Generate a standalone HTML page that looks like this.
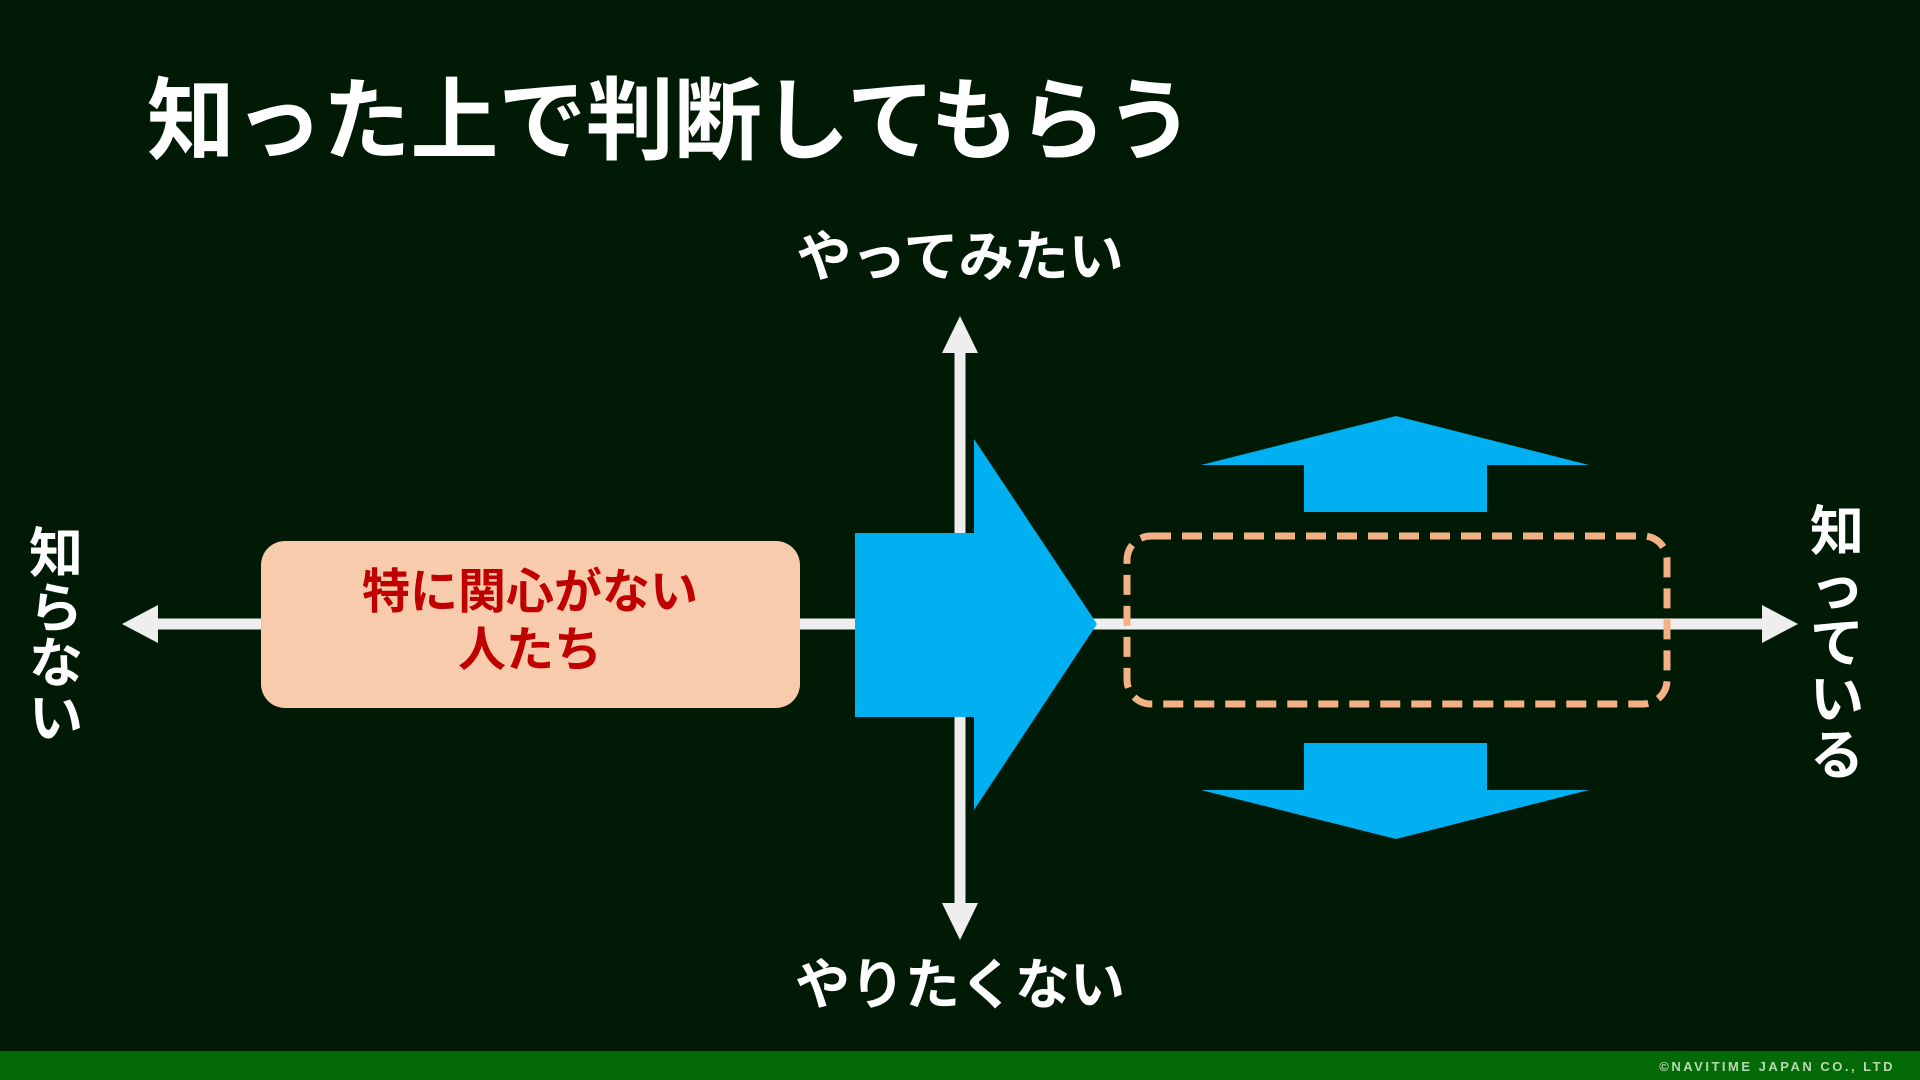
<!DOCTYPE html>
<html><head><meta charset="utf-8"><style>
html,body{margin:0;padding:0;background:#001a06;}
svg{display:block}
text{font-family:"Liberation Sans","Noto Sans CJK JP",sans-serif;font-weight:bold}
</style></head><body>
<svg width="1920" height="1080" viewBox="0 0 1920 1080" xmlns="http://www.w3.org/2000/svg">
<rect x="0" y="0" width="1920" height="1080" fill="#001a06"/>
<rect x="0" y="1051" width="1920" height="29" fill="#046a08"/>
<text x="1895" y="1071" font-size="13" fill="#b8d8b0" text-anchor="end" letter-spacing="2.5">©NAVITIME JAPAN CO., LTD</text>
<text x="147" y="152" font-size="90" fill="#ffffff" textLength="1047" lengthAdjust="spacingAndGlyphs">知った上で判断してもらう</text>
<line x1="140" y1="624" x2="1780" y2="624" stroke="#eeeeee" stroke-width="11"/>
<polygon points="122,624 158,605 158,643" fill="#eeeeee"/>
<polygon points="1798,624 1762,605 1762,643" fill="#eeeeee"/>
<line x1="960" y1="340" x2="960" y2="920" stroke="#eeeeee" stroke-width="11"/>
<polygon points="960,316 942,353 978,353" fill="#eeeeee"/>
<polygon points="960,940 942,903 978,903" fill="#eeeeee"/>
<text x="960" y="276" font-size="55" fill="#fff" text-anchor="middle">やってみたい</text>
<text x="960" y="1004" font-size="55" fill="#fff" text-anchor="middle">やりたくない</text>
<g font-size="54" fill="#fff" text-anchor="middle">
<text x="56" y="572">知</text><text x="56" y="627">ら</text><text x="56" y="682">な</text><text x="56" y="737">い</text>
<text x="1837" y="550">知</text><text x="1837" y="606">っ</text><text x="1837" y="662">て</text><text x="1837" y="718">い</text><text x="1837" y="774">る</text>
</g>
<rect x="261" y="541" width="539" height="167" rx="24" fill="#f8cbad"/>
<text x="530" y="608" font-size="48" fill="#c00000" text-anchor="middle">特に関心がない</text>
<text x="530" y="666" font-size="48" fill="#c00000" text-anchor="middle">人たち</text>
<polygon points="855,533 974,533 974,439 1097,624 974,810 974,717 855,717" fill="#00b0f0"/>
<rect x="1127" y="536" width="540" height="168" rx="24" fill="none" stroke="#f4b183" stroke-width="7" stroke-dasharray="20 11"/>
<polygon points="1396,416 1589,465 1487,465 1487,512 1304,512 1304,465 1201,465" fill="#00b0f0"/>
<polygon points="1304,743 1487,743 1487,790 1589,790 1396,839 1201,790 1304,790" fill="#00b0f0"/>
</svg>
</body></html>
